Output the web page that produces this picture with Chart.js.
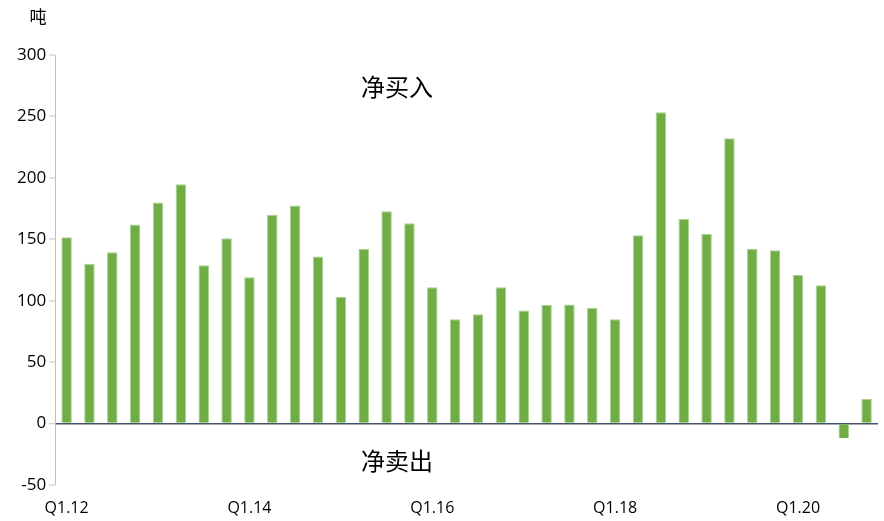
<!DOCTYPE html>
<html><head><meta charset="utf-8">
<script src="https://cdn.jsdelivr.net/npm/chart.js@4/dist/chart.umd.min.js"></script>
<style>html,body{margin:0;padding:0;background:#fff}#wrap{width:884px;height:521px;position:relative}</style>
</head><body><div id="wrap"><canvas id="c"></canvas></div>
<script>
const years = ['12','13','14','15','16','17','18','19','20'];
const categories = [];
years.forEach(y => { for (let q = 1; q <= 4; q++) categories.push('Q' + q + '.' + y); });
const netPurchases = [151.6,130,139.4,162,180,194.8,128.8,150.8,119,170,177.4,136,103.3,142,172.8,163,111,85,89,111,92,96.5,97,94,85,153.3,253.4,166.5,154.3,232.2,142.2,141,121,112.6,-12,20];
const yTicks = [-50,0,50,100,150,200,250,300];
const unitLabel = '吨';
const buyLabel = '净买入';
const sellLabel = '净卖出';

const textPlugin = {
  id: 'texts',
  afterDraw(chart) {
    const ctx = chart.ctx, x = chart.scales.x, y = chart.scales.y;
    ctx.save();
    ctx.fillStyle = '#000';
    ctx.textAlign = 'center';
    ctx.textBaseline = 'middle';
    ctx.font = '17px "Noto Sans CJK SC"';
    ctx.fillText(unitLabel, 38, 17);
    ctx.font = '24px "Noto Sans CJK SC"';
    const cx = (x.getPixelForValue(14) + x.getPixelForValue(15)) / 2 - 1;
    ctx.fillText(buyLabel, cx, y.getPixelForValue(274));
    ctx.fillText(sellLabel, cx, y.getPixelForValue(-30));
    ctx.restore();
  }
};

new Chart(document.getElementById('c'), {
  type: 'bar',
  data: { labels: categories, datasets: [{ data: netPurchases, backgroundColor: '#70AD47', borderColor: '#A9D18E', borderWidth: {top:1,left:1,right:1,bottom:0}, barPercentage: 0.46, categoryPercentage: 1 }] },
  options: {
    responsive: true, maintainAspectRatio: false, animation: false,
    layout: { padding: { top: 55, right: 6, left: 14, bottom: 0 } },
    plugins: { legend: { display: false }, tooltip: { enabled: false } },
    scales: {
      x: {
        afterFit: s => { s.height = 36; },
        grid: { display: false, drawTicks: false },
        border: { display: false },
        ticks: { autoSkip: false, maxRotation: 0, color: '#000', font: { family: 'Open Sans', size: 16 }, padding: 14,
          callback: (v, i) => i % 8 === 0 ? categories[i] : '' }
      },
      y: {
        min: -50, max: 300,
        afterBuildTicks: s => { s.ticks = yTicks.map(v => ({ value: v })); },
        grid: { color: c => c.tick && c.tick.value === 0 ? '#44546A' : 'rgba(0,0,0,0)', lineWidth: c => c.tick && c.tick.value === 0 ? 1.5 : 0, tickColor: '#BFBFBF', tickLength: 6, tickWidth: 1 },
        border: { display: true, color: '#BFBFBF', width: 1 },
        ticks: { color: '#000', font: { family: 'Open Sans', size: 17 }, padding: 3 }
      }
    }
  },
  plugins: [textPlugin]
});
</script></body></html>
